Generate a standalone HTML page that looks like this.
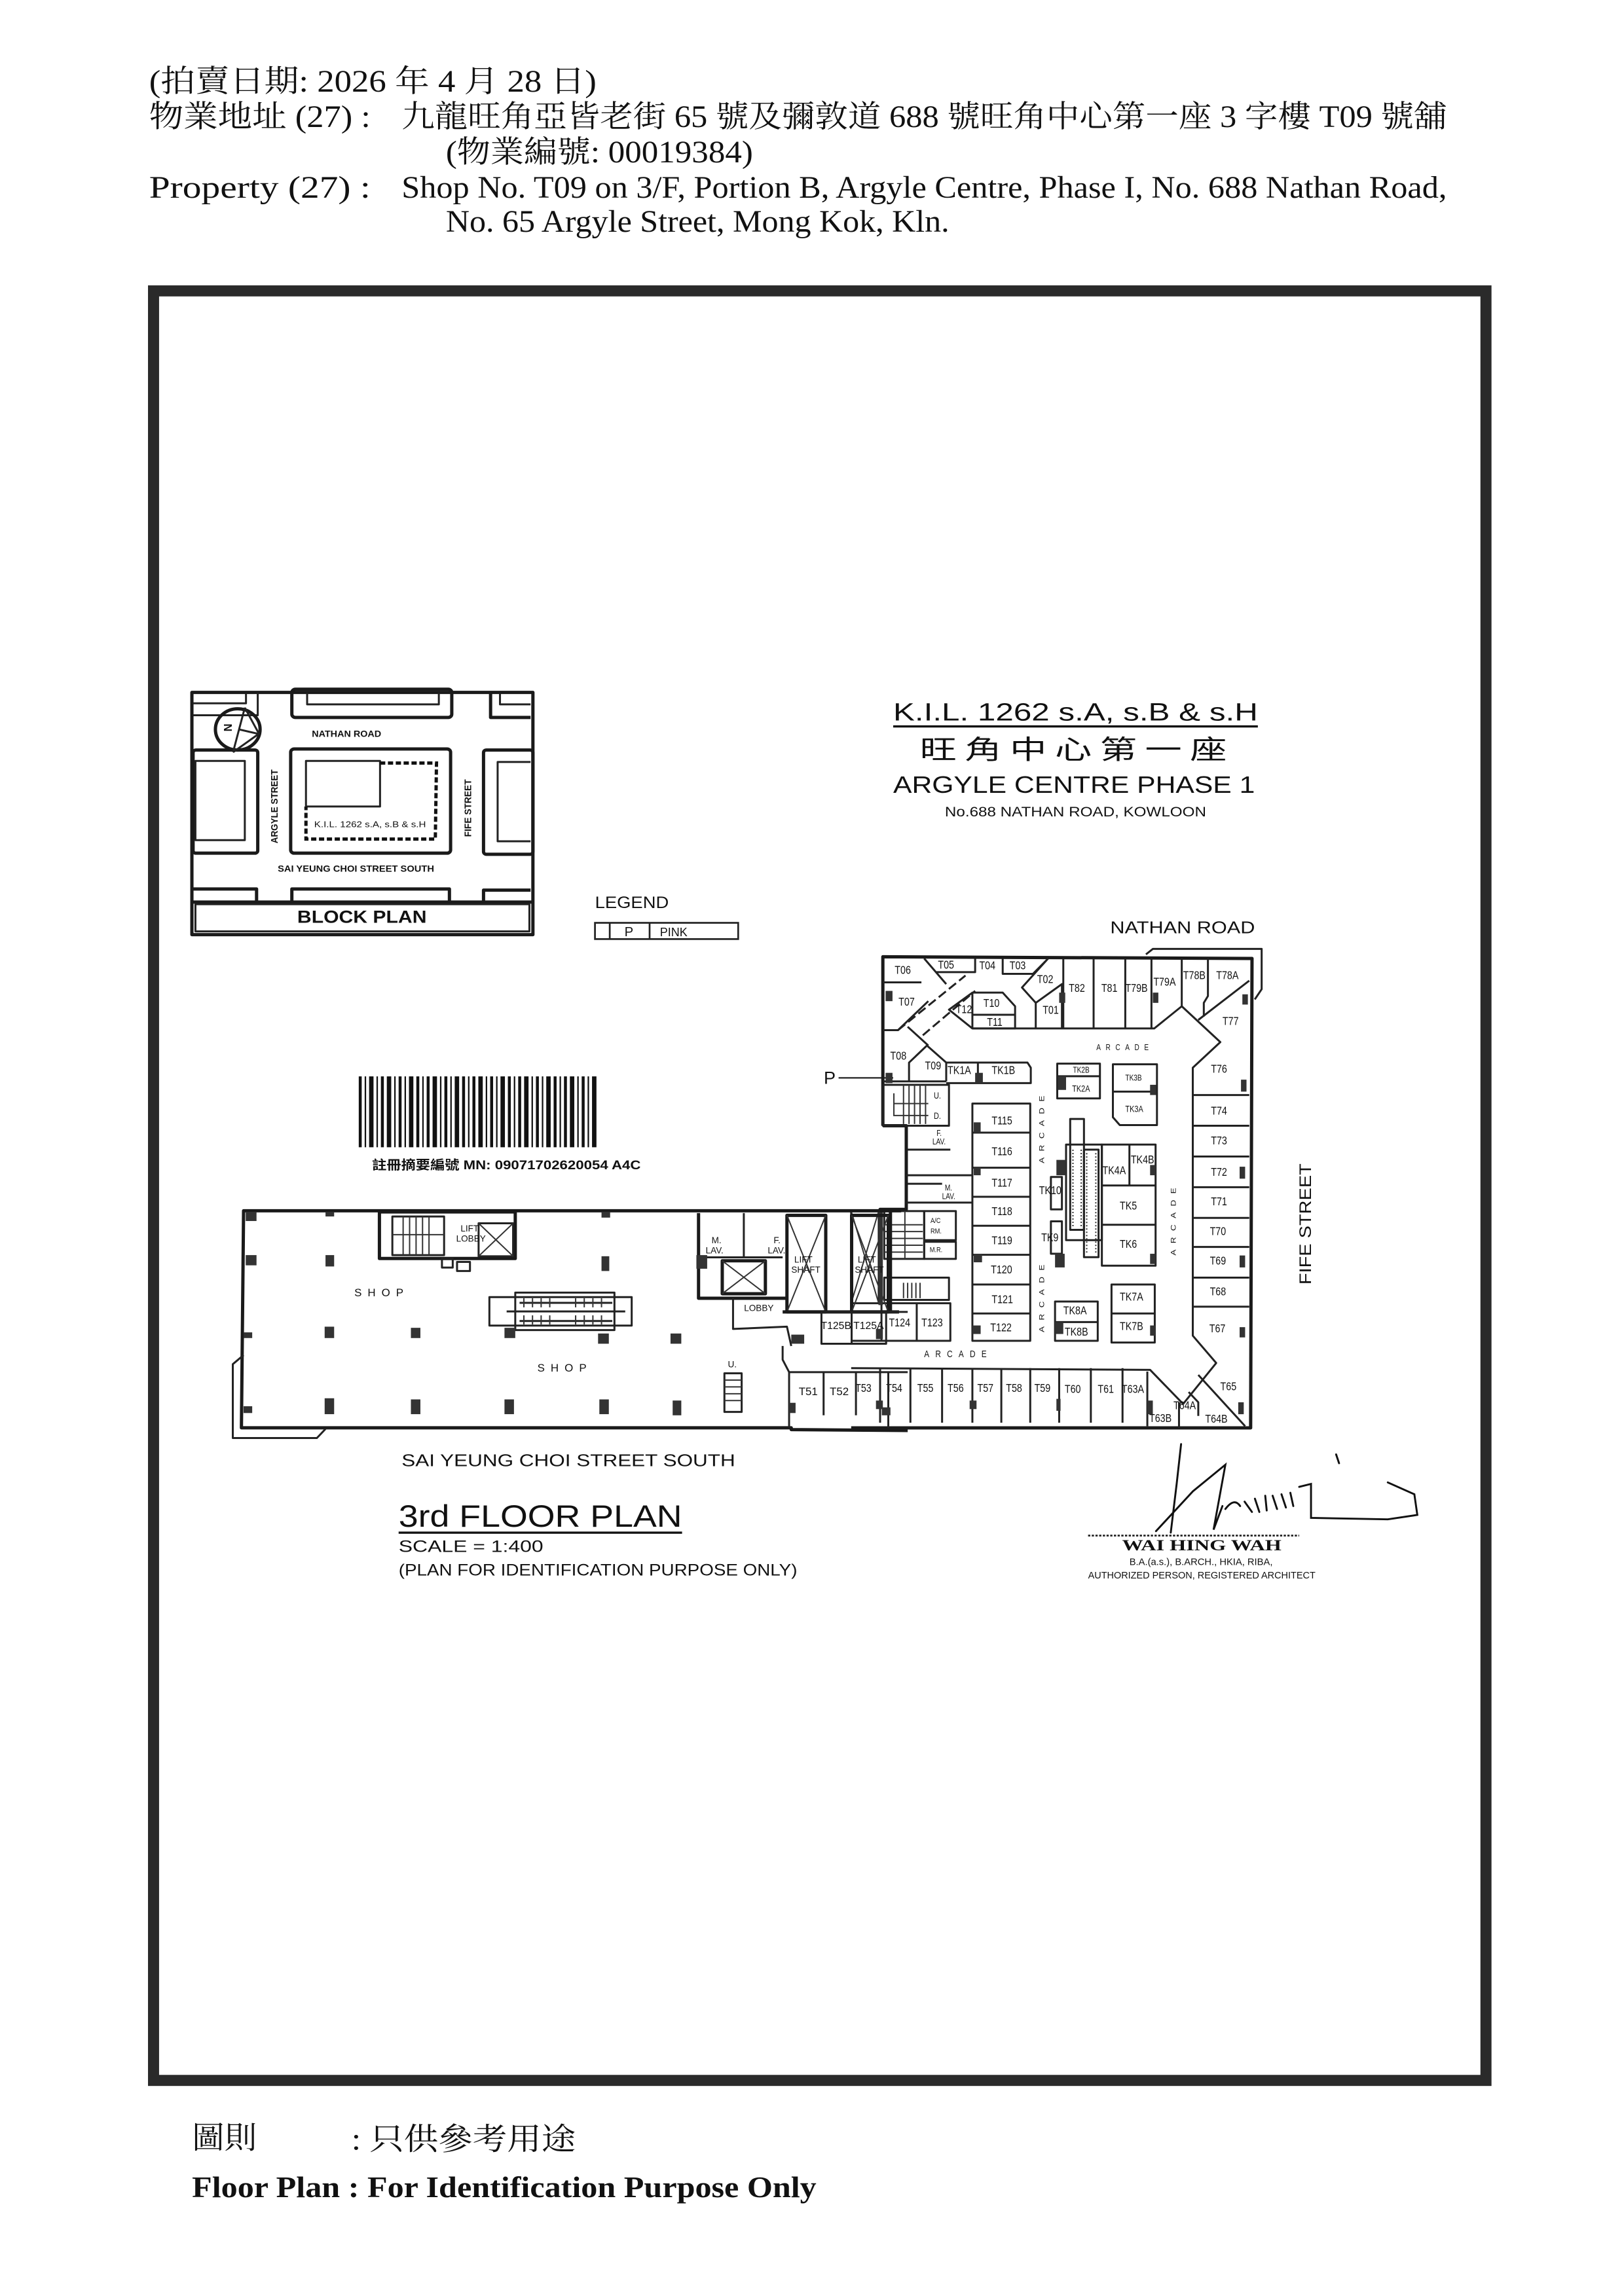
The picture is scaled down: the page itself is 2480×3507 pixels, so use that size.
<!DOCTYPE html>
<html><head><meta charset="utf-8">
<style>
html,body{margin:0;padding:0;background:#fff;}
svg{display:block;}
.w{fill:none;stroke:#1a1a1a;stroke-width:5;vector-effect:non-scaling-stroke;stroke-linejoin:round;}
.t{fill:none;stroke:#222;stroke-width:3;vector-effect:non-scaling-stroke;stroke-linejoin:round;}
.h{fill:none;stroke:#333;stroke-width:2;vector-effect:non-scaling-stroke;}
.d{fill:#333;}
.s{font-family:"Liberation Serif","Noto Serif CJK SC","Noto Sans CJK TC",serif;fill:#111;}
.a{font-family:"Liberation Sans","DejaVu Sans",sans-serif;fill:#111;}
</style></head>
<body>
<svg width="2480" height="3507" viewBox="0 0 1100 1555" preserveAspectRatio="none" xmlns="http://www.w3.org/2000/svg">
<rect width="1100" height="1555" fill="#fff"/>

<g class="s" font-size="21">
<text x="101" y="62" textLength="303" lengthAdjust="spacingAndGlyphs">(拍賣日期:  2026 年 4 月 28 日)</text>
<text x="101" y="86" textLength="150" lengthAdjust="spacingAndGlyphs">物業地址  (27) :</text>
<text x="272" y="86" textLength="708" lengthAdjust="spacingAndGlyphs">九龍旺角亞皆老街 65 號及彌敦道 688 號旺角中心第一座 3 字樓 T09 號舖</text>
<text x="302" y="110" textLength="208" lengthAdjust="spacingAndGlyphs">(物業編號: 00019384)</text>
<text x="101" y="134" textLength="150" lengthAdjust="spacingAndGlyphs">Property   (27) :</text>
<text x="272" y="134" textLength="708" lengthAdjust="spacingAndGlyphs">Shop No. T09 on 3/F, Portion B, Argyle Centre, Phase I, No. 688 Nathan Road,</text>
<text x="302" y="157" textLength="341" lengthAdjust="spacingAndGlyphs">No. 65 Argyle Street, Mong Kok, Kln.</text>
</g>

<rect x="104" y="197" width="902.5" height="1212" fill="none" stroke="#2a2a2a" stroke-width="7.5"/>

<g transform="translate(125.2,465.3) scale(0.1593,0.1471)">
<rect x="30" y="25" width="1450" height="1115" class="w"/>
<path d="M35,990 L1475,990" class="w"/>
<rect x="45" y="1000" width="1420" height="125" class="t"/>
<rect x="455" y="10" width="680" height="130" rx="15" class="w"/>
<path d="M520,25 L520,80 L1080,80 L1080,25" class="t"/>
<path d="M1300,25 L1300,140 L1470,140" class="w"/>
<path d="M1340,30 L1340,80 L1470,80" class="t"/>
<path d="M35,75 L260,75 L260,30 M35,130 L310,130 L310,25" class="t"/>
<rect x="450" y="285" width="680" height="480" rx="15" class="w"/>
<rect x="35" y="290" width="275" height="475" rx="12" class="w"/>
<rect x="45" y="340" width="210" height="365" class="t"/>
<rect x="1270" y="290" width="210" height="480" rx="12" class="w"/>
<path d="M1470,345 L1330,345 L1330,710 L1470,710" class="t"/>
<path d="M35,930 L305,930 L305,985 M455,985 L455,930 L1125,930 L1125,985 M1270,985 L1270,935 L1470,935" class="w"/>
<path d="M515,550 L515,340 L830,340 L830,550 L515,550" class="t"/>
<path d="M830,350 L1070,350 L1065,700 L515,700 L515,550" fill="none" stroke="#111" stroke-width="5" vector-effect="non-scaling-stroke" stroke-dasharray="8 4"/>
<circle cx="225" cy="195" r="95" class="w" fill="#fff"/>
<path d="M255,95 L205,300 M255,95 L315,215 L205,300 M230,195 L310,215" class="t"/>
<text x="170" y="205" class="a" font-size="50" font-weight="bold" transform="rotate(-90 185 190)">N</text>
<text x="540" y="230" class="a" font-size="42" font-weight="bold" textLength="295" lengthAdjust="spacingAndGlyphs">NATHAN ROAD</text>
<text x="395" y="850" class="a" font-size="42" font-weight="bold" textLength="665" lengthAdjust="spacingAndGlyphs">SAI YEUNG CHOI STREET SOUTH</text>
<text x="550" y="645" class="a" font-size="40" textLength="475" lengthAdjust="spacingAndGlyphs">K.I.L. 1262 s.A, s.B &amp; s.H</text>
<text transform="translate(395,720) rotate(-90)" class="a" font-size="40" font-weight="bold" textLength="340" lengthAdjust="spacingAndGlyphs">ARGYLE STREET</text>
<text transform="translate(1218,690) rotate(-90)" class="a" font-size="40" font-weight="bold" textLength="265" lengthAdjust="spacingAndGlyphs">FIFE STREET</text>
<text x="478" y="1085" class="a" font-size="80" font-weight="bold" textLength="550" lengthAdjust="spacingAndGlyphs">BLOCK   PLAN</text>
</g>

<g class="a">
<text x="605" y="488" font-size="17" textLength="247" lengthAdjust="spacingAndGlyphs">K.I.L. 1262  s.A, s.B  &amp;  s.H</text>
<line x1="605" y1="492" x2="852" y2="492" stroke="#111" stroke-width="1.5"/>
<text x="623" y="514" font-size="18" textLength="208" lengthAdjust="spacingAndGlyphs" style="font-family:'Noto Sans CJK TC','Noto Sans CJK SC',sans-serif">旺 角 中 心 第 一 座</text>
<text x="605" y="537" font-size="16" textLength="245" lengthAdjust="spacingAndGlyphs">ARGYLE CENTRE PHASE 1</text>
<text x="640" y="553" font-size="9.5" textLength="177" lengthAdjust="spacingAndGlyphs">No.688 NATHAN ROAD, KOWLOON</text>
<text x="403" y="615" font-size="11" textLength="50" lengthAdjust="spacingAndGlyphs">LEGEND</text>
<text x="752" y="632" font-size="11.5" textLength="98" lengthAdjust="spacingAndGlyphs">NATHAN   ROAD</text>
<text x="272" y="993" font-size="11.5" textLength="226" lengthAdjust="spacingAndGlyphs">SAI   YEUNG   CHOI   STREET   SOUTH</text>
<text transform="translate(888,870) rotate(-90)" font-size="11" textLength="82" lengthAdjust="spacingAndGlyphs">FIFE   STREET</text>
<text x="270" y="1034" font-size="21" textLength="192" lengthAdjust="spacingAndGlyphs">3rd FLOOR PLAN</text>
<line x1="270" y1="1038" x2="462" y2="1038" stroke="#111" stroke-width="1.5"/>
<text x="270" y="1051" font-size="11" textLength="98" lengthAdjust="spacingAndGlyphs">SCALE = 1:400</text>
<text x="270" y="1067" font-size="11" textLength="270" lengthAdjust="spacingAndGlyphs">(PLAN FOR IDENTIFICATION PURPOSE ONLY)</text>
<text x="558" y="734" font-size="12">P</text>
</g>
<line x1="568" y1="730" x2="605" y2="730" stroke="#222" stroke-width="1"/>
<rect x="403" y="625" width="97" height="11" fill="none" stroke="#222" stroke-width="1.2"/>
<line x1="413" y1="625" x2="413" y2="636" stroke="#222" stroke-width="1.2"/>
<line x1="440" y1="625" x2="440" y2="636" stroke="#222" stroke-width="1.2"/>
<text x="423" y="634" class="a" font-size="9">P</text>
<text x="447" y="634" class="a" font-size="8">PINK</text>

<g fill="#111">
<rect x="243" y="729" width="2" height="48"/><rect x="247" y="729" width="1" height="48"/><rect x="250" y="729" width="3" height="48"/>
<rect x="255" y="729" width="1" height="48"/><rect x="258" y="729" width="2" height="48"/><rect x="262" y="729" width="3" height="48"/>
<rect x="267" y="729" width="1" height="48"/><rect x="270" y="729" width="2" height="48"/><rect x="274" y="729" width="1" height="48"/>
<rect x="277" y="729" width="3" height="48"/><rect x="282" y="729" width="2" height="48"/><rect x="286" y="729" width="1" height="48"/>
<rect x="289" y="729" width="2" height="48"/><rect x="293" y="729" width="3" height="48"/><rect x="298" y="729" width="1" height="48"/>
<rect x="301" y="729" width="2" height="48"/><rect x="305" y="729" width="1" height="48"/><rect x="308" y="729" width="3" height="48"/>
<rect x="313" y="729" width="2" height="48"/><rect x="317" y="729" width="1" height="48"/><rect x="320" y="729" width="2" height="48"/>
<rect x="324" y="729" width="3" height="48"/><rect x="329" y="729" width="1" height="48"/><rect x="332" y="729" width="2" height="48"/>
<rect x="336" y="729" width="1" height="48"/><rect x="339" y="729" width="3" height="48"/><rect x="344" y="729" width="2" height="48"/>
<rect x="348" y="729" width="1" height="48"/><rect x="351" y="729" width="2" height="48"/><rect x="355" y="729" width="3" height="48"/>
<rect x="360" y="729" width="1" height="48"/><rect x="363" y="729" width="2" height="48"/><rect x="367" y="729" width="1" height="48"/>
<rect x="370" y="729" width="3" height="48"/><rect x="375" y="729" width="2" height="48"/><rect x="379" y="729" width="1" height="48"/>
<rect x="382" y="729" width="2" height="48"/><rect x="386" y="729" width="3" height="48"/><rect x="391" y="729" width="1" height="48"/>
<rect x="394" y="729" width="2" height="48"/><rect x="398" y="729" width="1" height="48"/><rect x="401" y="729" width="3" height="48"/>
</g>
<text x="252" y="792" class="a" font-size="8.5" font-weight="bold" textLength="182" lengthAdjust="spacingAndGlyphs" style="font-family:'Liberation Sans','Noto Sans CJK TC',sans-serif">註冊摘要編號 MN: 09071702620054   A4C</text>

<g transform="translate(578.4,621.4) scale(0.1866,0.2312)">
<path d="M105,610 L105,115 L1445,120 L1440,1495 L-10,1495" class="w"/>
<path d="M1060,108 L1085,92 L1480,92 L1480,210 L1455,240" class="t"/>
<path d="M105,610 L190,610 L190,855 L95,855 L95,1135" class="w"/>
<path d="M105,190 L245,190 M255,120 L335,195 M300,160 L440,160 L440,120 M540,120 L540,165 L650,165 L705,120 M705,120 L610,205 L660,250 L660,325 M660,250 L755,195 L755,325 M270,245 L160,330 L105,330" class="t"/>
<path d="M160,330 L405,170 M250,345 L440,215" class="t" stroke-dasharray="14 6"/>
<path d="M345,270 L430,220 L540,220 L585,260 L585,325 L430,325 Z M430,285 L585,285 M430,220 L430,325" class="t"/>
<path d="M760,120 L760,325 M870,120 L870,325 M985,120 L985,325 M1080,120 L1080,325 M1190,120 L1190,260 M1285,120 L1285,230 L1270,250 L1270,290" class="t"/>
<path d="M430,325 L1090,325 L1190,260 L1330,365 L1230,440 L1230,1225 L1315,1305 L1195,1425 L1075,1325 L-10,1320 M1250,300 L1435,185 M1250,1340 L1420,1490 M1065,1330 L1065,1490 M1180,1420 L1180,1495 M1215,1390 L1250,1420 L1250,1460" class="t"/>
<path d="M1230,520 L1435,520 M1230,610 L1435,610 M1230,700 L1435,700 M1230,790 L1435,790 M1230,880 L1435,880 M1230,965 L1435,965 M1230,1055 L1435,1055 M1230,1140 L1435,1140" class="t"/>
<path d="M195,320 L270,375 M200,480 L200,425 L265,375 L335,425 L335,480 M335,425 L630,425 L642,440 L642,485 L335,485 M105,480 L335,480 M450,425 L450,485" class="t"/>
<rect x="105" y="490" width="240" height="120" class="t"/>
<path d="M180,490 L180,605 M200,490 L200,605 M220,490 L220,605 M240,490 L240,605 M260,490 L260,605 M145,545 L270,545 M145,515 L145,580 L270,580" class="h"/>
<path d="M430,545 L640,545 L640,1240 L430,1240 Z M430,630 L640,630 M430,733 L640,733 M430,818 L640,818 M430,903 L640,903 M430,988 L640,988 M430,1075 L640,1075 M430,1160 L640,1160" class="t"/>
<path d="M190,755 L430,755 M190,835 L430,835 M195,680 L350,680 M195,780 L320,780" class="t"/>
<rect x="255" y="860" width="115" height="85" class="t"/><rect x="255" y="950" width="115" height="50" class="t"/>
<rect x="110" y="860" width="145" height="140" class="t"/>
<path d="M110,900 L250,900 M110,920 L250,920 M110,940 L250,940 M110,960 L250,960 M110,980 L250,980 M185,860 L185,1000" class="h"/>
<rect x="110" y="1055" width="235" height="65" class="t"/>
<path d="M180,1070 L180,1115 M195,1070 L195,1115 M210,1070 L210,1115 M225,1070 L225,1115 M240,1070 L240,1115" class="h"/>
<rect x="100" y="1130" width="250" height="110" class="t"/><path d="M228,1130 L228,1240 M-10,1240 L100,1240" class="t"/>
<rect x="-10" y="860" width="100" height="270" class="t"/><path d="M-10,860 L90,1130 M90,860 L-10,1130" class="h"/>
<rect x="738" y="428" width="155" height="102" class="t"/><path d="M738,465 L893,465" class="t"/>
<path d="M940,430 L1100,430 L1100,608 L965,608 L940,585 Z M940,510 L1100,510" class="t"/>
<rect x="770" y="665" width="130" height="280" class="t"/>
<rect x="785" y="590" width="50" height="325" class="t"/><rect x="835" y="680" width="53" height="315" class="t"/>
<path d="M795,680 L795,905 M825,680 L825,905 M845,690 L845,985 M878,690 L878,985" class="h" stroke-dasharray="2 3"/>
<path d="M900,665 L1095,665 L1095,1020 L900,1020 Z M1000,665 L1000,785 M900,785 L1095,785 M900,900 L1095,900" class="t"/>
<rect x="715" y="760" width="40" height="95" class="t"/><rect x="715" y="890" width="40" height="95" class="t"/>
<path d="M935,1075 L1092,1075 L1092,1245 L935,1245 Z M935,1160 L1092,1160" class="t"/>
<path d="M730,1125 L885,1125 L885,1240 L730,1240 Z M730,1185 L885,1185" class="t"/>
<path d="M95,1320 L95,1480 M205,1320 L205,1480 M320,1320 L320,1480 M430,1320 L430,1480 M535,1320 L535,1480 M640,1320 L640,1480 M745,1320 L745,1480 M860,1320 L860,1480 M975,1320 L975,1480" class="t"/>
<g class="d">
<rect x="115" y="215" width="25" height="30"/><rect x="745" y="220" width="22" height="30"/><rect x="1085" y="220" width="20" height="30"/><rect x="1410" y="225" width="20" height="30"/>
<rect x="115" y="455" width="25" height="30"/><rect x="440" y="455" width="28" height="30"/><rect x="1405" y="475" width="20" height="35"/><rect x="1075" y="490" width="22" height="30"/>
<rect x="740" y="465" width="30" height="40"/><rect x="435" y="600" width="25" height="30"/><rect x="435" y="730" width="25" height="25"/><rect x="435" y="985" width="30" height="25"/>
<rect x="735" y="710" width="35" height="45"/><rect x="730" y="985" width="35" height="40"/><rect x="1400" y="730" width="20" height="35"/><rect x="1400" y="990" width="20" height="35"/>
<rect x="1075" y="725" width="20" height="30"/><rect x="1075" y="985" width="20" height="30"/><rect x="1400" y="1200" width="20" height="30"/><rect x="1075" y="1195" width="18" height="30"/>
<rect x="730" y="1185" width="30" height="35"/><rect x="430" y="1195" width="30" height="25"/><rect x="80" y="1205" width="25" height="30"/>
<rect x="80" y="1415" width="25" height="25"/><rect x="420" y="1415" width="25" height="25"/><rect x="735" y="1410" width="15" height="35"/><rect x="1065" y="1415" width="20" height="40"/><rect x="1395" y="1420" width="20" height="35"/>
<rect x="90" y="855" width="15" height="280"/>
</g>
<g class="a" font-size="34">
<text x="148" y="165">T06</text><text x="305" y="150">T05</text><text x="455" y="152">T04</text><text x="565" y="152">T03</text>
<text x="665" y="192">T02</text><text x="162" y="258">T07</text><text x="470" y="262">T10</text><text x="370" y="280">T12</text><text x="483" y="318">T11</text>
<text x="685" y="282">T01</text><text x="780" y="218">T82</text><text x="898" y="218">T81</text><text x="985" y="218">T79B</text><text x="1087" y="200">T79A</text>
<text x="1195" y="180">T78B</text><text x="1315" y="180">T78A</text><text x="1338" y="315">T77</text>
<text x="132" y="416">T08</text><text x="258" y="445">T09</text><text x="340" y="458">TK1A</text><text x="500" y="458">TK1B</text>
<text x="795" y="455" font-size="24">TK2B</text><text x="792" y="510" font-size="26">TK2A</text><text x="985" y="478" font-size="24">TK3B</text><text x="985" y="570" font-size="26">TK3A</text>
<text x="1296" y="455">T76</text><text x="1296" y="577">T74</text><text x="1296" y="665">T73</text><text x="1296" y="757">T72</text><text x="1296" y="843">T71</text>
<text x="1292" y="930">T70</text><text x="1292" y="1017">T69</text><text x="1292" y="1107">T68</text><text x="1290" y="1215">T67</text>
<text x="500" y="606">T115</text><text x="500" y="696">T116</text><text x="500" y="788">T117</text><text x="500" y="872">T118</text><text x="500" y="957">T119</text>
<text x="497" y="1042">T120</text><text x="500" y="1130">T121</text><text x="495" y="1212">T122</text>
<text x="902" y="752">TK4A</text><text x="1005" y="720">TK4B</text><text x="965" y="855">TK5</text><text x="965" y="968">TK6</text>
<text x="672" y="810">TK10</text><text x="680" y="948">TK9</text><text x="965" y="1122">TK7A</text><text x="965" y="1208">TK7B</text>
<text x="760" y="1162">TK8A</text><text x="765" y="1225">TK8B</text>
<text x="127" y="1198">T124</text><text x="245" y="1198">T123</text>
<text x="5" y="1390">T53</text><text x="117" y="1390">T54</text><text x="230" y="1390">T55</text><text x="340" y="1390">T56</text><text x="448" y="1390">T57</text>
<text x="552" y="1390">T58</text><text x="655" y="1390">T59</text><text x="765" y="1392">T60</text><text x="885" y="1392">T61</text><text x="972" y="1392">T63A</text>
<text x="1330" y="1385">T65</text><text x="1160" y="1440">T64A</text><text x="1072" y="1478">T63B</text><text x="1275" y="1480">T64B</text>
<text x="290" y="530" font-size="26">U.</text><text x="290" y="590" font-size="26">D.</text><text x="300" y="640" font-size="24">F.</text><text x="285" y="665" font-size="24">LAV.</text>
<text x="330" y="800" font-size="24">M.</text><text x="320" y="825" font-size="24">LAV.</text><text x="278" y="895" font-size="22">A/C</text><text x="278" y="925" font-size="22">RM.</text><text x="275" y="980" font-size="22">M.R.</text>
<text x="880" y="388" font-size="24" letter-spacing="18">ARCADE</text>
<text x="255" y="1288" font-size="28" letter-spacing="22">ARCADE</text>
<text transform="translate(690,720) rotate(-90)" font-size="26" letter-spacing="18">ARCADE</text>
<text transform="translate(690,1215) rotate(-90)" font-size="26" letter-spacing="18">ARCADE</text>
<text transform="translate(1168,990) rotate(-90)" font-size="26" letter-spacing="18">ARCADE</text>
</g>
</g>

<g transform="translate(153.3,813.1) scale(0.2921,0.1539)">
<path d="M1565,45 L40,45 L35,1000 L1310,1000 L1310,1008 L1580,1012" class="w"/>
<path d="M40,680 L15,720 L15,1045 L210,1045 L230,1005" class="t"/>
<path d="M1305,1000 L1305,755 L1580,755" class="t"/>
<path d="M1290,640 L1290,700 L1305,755" class="t"/>
<rect x="355" y="50" width="315" height="205" class="w"/>
<rect x="385" y="70" width="120" height="170" class="t"/>
<path d="M385,150 L505,150 M410,70 L410,240 M425,70 L425,240 M440,70 L440,240 M455,70 L455,240 M470,70 L470,240" class="h"/>
<rect x="585" y="100" width="80" height="145" class="t"/><path d="M585,100 L665,245 M665,100 L585,245" class="h"/>
<rect x="500" y="255" width="25" height="40" class="t"/><rect x="535" y="270" width="30" height="40" class="t"/>
<path d="M1095,55 L1095,430 L1300,430" class="w"/>
<path d="M1200,55 L1200,250 M1100,250 L1290,250" class="t"/>
<rect x="1150" y="265" width="100" height="145" class="w"/><path d="M1150,265 L1250,410 M1250,265 L1150,410" class="h"/>
<rect x="1300" y="65" width="90" height="425" class="w"/><path d="M1300,65 L1390,490 M1390,65 L1300,490" class="h"/>
<rect x="1450" y="65" width="85" height="425" class="w"/><path d="M1450,65 L1535,490 M1535,65 L1450,490" class="h"/>
<path d="M1540,45 L1540,490 M1290,490 L1560,490" class="w"/>
<rect x="1380" y="490" width="150" height="140" class="t"/><path d="M1450,490 L1450,630 M1530,490 L1580,490" class="t"/>
<path d="M1175,430 L1175,565 L1300,555 L1310,640" class="t"/>
<rect x="610" y="425" width="330" height="125" class="t"/>
<rect x="670" y="405" width="230" height="165" class="t"/>
<path d="M680,450 L895,450 M680,530 L895,530 M650,488 L925,488" class="t"/>
<path d="M690,430 L690,470 M710,430 L710,470 M730,430 L730,470 M750,430 L750,470 M810,430 L810,470 M830,430 L830,470 M850,430 L850,470 M870,430 L870,470 M690,505 L690,545 M710,505 L710,545 M730,505 L730,545 M750,505 L750,545 M810,505 L810,545 M830,505 L830,545 M850,505 L850,545 M870,505 L870,545" class="h"/>
<rect x="1155" y="760" width="40" height="170" class="t"/>
<path d="M1155,790 L1195,790 M1155,820 L1195,820 M1155,850 L1195,850 M1155,880 L1195,880" class="h"/>
<path d="M1385,755 L1385,945 M1460,755 L1460,945 M1535,755 L1535,1000" class="t"/>
<g class="d">
<rect x="45" y="50" width="25" height="40"/><rect x="230" y="50" width="20" height="20"/><rect x="870" y="50" width="20" height="25"/>
<rect x="45" y="240" width="25" height="45"/><rect x="230" y="240" width="20" height="50"/><rect x="870" y="245" width="18" height="65"/>
<rect x="40" y="580" width="20" height="25"/><rect x="228" y="555" width="22" height="50"/><rect x="428" y="560" width="22" height="45"/><rect x="645" y="560" width="25" height="45"/>
<rect x="862" y="585" width="25" height="45"/><rect x="1030" y="585" width="25" height="45"/><rect x="40" y="905" width="20" height="30"/>
<rect x="228" y="870" width="22" height="70"/><rect x="428" y="875" width="22" height="65"/><rect x="645" y="875" width="22" height="65"/><rect x="865" y="875" width="22" height="65"/><rect x="1035" y="880" width="20" height="65"/>
<rect x="1090" y="240" width="25" height="60"/><rect x="1310" y="590" width="30" height="40"/><rect x="1520" y="910" width="20" height="35"/><rect x="1305" y="890" width="15" height="45"/>
</g>
</g>
<g class="a" font-size="7.5">
<text x="240" y="878" letter-spacing="4">SHOP</text>
<text x="364" y="929" letter-spacing="4">SHOP</text>
<text x="541" y="945">T51</text><text x="562" y="945">T52</text>
<text x="556" y="900" font-size="7">T125B</text><text x="578" y="900" font-size="7">T125A</text>
<text x="504" y="888" font-size="6">LOBBY</text>
<text x="538" y="855" font-size="6">LIFT</text><text x="536" y="862" font-size="6">SHAFT</text>
<text x="581" y="855" font-size="6">LIFT</text><text x="579" y="862" font-size="6">SHAFT</text>
<text x="482" y="842" font-size="6">M.</text><text x="478" y="849" font-size="6">LAV.</text>
<text x="524" y="842" font-size="6">F.</text><text x="520" y="849" font-size="6">LAV.</text>
<text x="312" y="834" font-size="6">LIFT</text><text x="309" y="841" font-size="6">LOBBY</text>
<text x="493" y="926" font-size="6">U.</text>
</g>

<g fill="none" stroke="#111" stroke-width="1.3" stroke-linecap="round">
<path d="M800,978 L797,1005 L793,1038"/>
<path d="M783,1037 L808,1010 L830,992 L822,1036 L828,1020"/>
<path d="M830,1022 Q836,1014 840,1020 M843,1017 L848,1024 M850,1015 L853,1024 M857,1013 L858,1023 M862,1013 L865,1022 M868,1012 L871,1021 M874,1011 L876,1020"/>
<path d="M880,1007 L888,1005 L888,1028 L940,1029 L960,1026 L958,1012 L940,1004"/>
<path d="M905,985 L907,991"/>
</g>
<line x1="737" y1="1040" x2="880" y2="1040" stroke="#222" stroke-width="1.2" stroke-dasharray="1.5 1"/>
<text x="760" y="1050" class="s" font-size="10.5" font-weight="bold" textLength="108" lengthAdjust="spacingAndGlyphs">WAI   HING   WAH</text>
<text x="765" y="1060" class="a" font-size="6.5" textLength="97" lengthAdjust="spacingAndGlyphs">B.A.(a.s.), B.ARCH., HKIA, RIBA,</text>
<text x="737" y="1069" class="a" font-size="6.5" textLength="154" lengthAdjust="spacingAndGlyphs">AUTHORIZED PERSON, REGISTERED ARCHITECT</text>

<text x="130" y="1455" class="s" font-size="21" textLength="44" lengthAdjust="spacingAndGlyphs">圖則</text>
<text x="238" y="1456" class="s" font-size="21" textLength="152" lengthAdjust="spacingAndGlyphs">: 只供參考用途</text>
<text x="130" y="1488" class="s" font-size="20" font-weight="bold" textLength="423" lengthAdjust="spacingAndGlyphs">Floor Plan : For Identification Purpose Only</text>
</svg>
</body></html>
